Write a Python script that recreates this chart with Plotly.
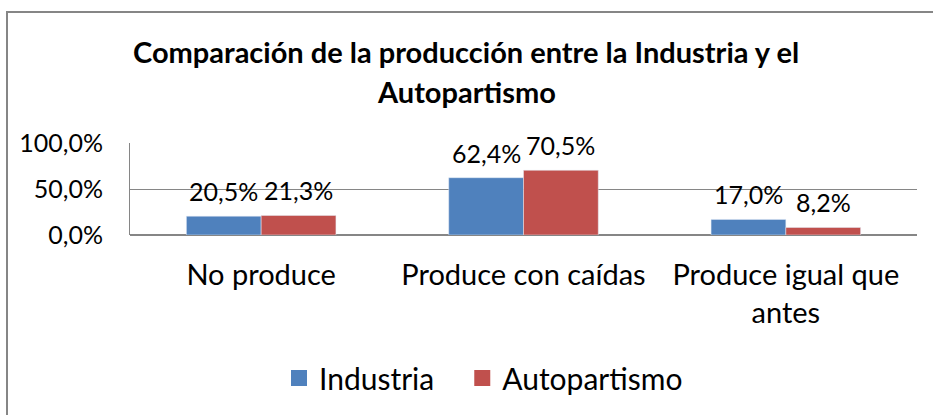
import plotly.graph_objects as go

categories = ["No produce", "Produce con caídas", "Produce igual que<br>antes"]
industria = [0.205, 0.624, 0.170]
autopartismo = [0.213, 0.705, 0.082]
series_names = ["Industria", "Autopartismo"]
title_lines = ["Comparación de la producción entre la Industria y el", "Autopartismo"]
y_ticks = [0, 0.5, 1.0]

W, H = 933, 415
L, R, T, B = 130, 16, 143, 180
PW = W - L - R
PH = H - T - B

def px_x(px):
    return (px - L) / PW

def px_y(py):
    return (H - B - py) / PH

FONT = "Lato"
BLUE = "#4F81BD"
RED = "#C0504D"
GRID = "#868686"
COLORS = [BLUE, RED]
PAD = ["\u00a0" * 3, ""]

fig = go.Figure()
for name, vals, col in zip(series_names, (industria, autopartismo), COLORS):
    fig.add_trace(go.Bar(x=categories, y=vals, name=name, marker_color=col, showlegend=False))
# legend entries with larger square swatches
for name, col, pad in zip(series_names, COLORS, PAD):
    fig.add_trace(go.Scatter(x=[None], y=[None], mode="markers", name=name + pad,
                             marker=dict(symbol="square", size=18, color=col)))

annotations = []
cat_w = PW / len(categories)
bar_w = cat_w * (1 - 0.43) / 2
for vals, sign in ((industria, -1), (autopartismo, 1)):
    for c, v in zip(categories, vals):
        annotations.append(dict(
            x=c, y=v, xref="x", yref="y", text=f"{v*100:.1f}%".replace(".", ","),
            showarrow=False, xshift=sign * bar_w / 2, yshift=25, yanchor="middle",
            font=dict(family=FONT, size=25, color="black")))

for text, ypx in zip(title_lines, (51, 91)):
    annotations.append(dict(x=px_x(466), y=px_y(ypx), xref="paper", yref="paper", text=f"<b>{text}</b>",
                            showarrow=False, xanchor="center", yanchor="middle",
                            font=dict(family=FONT, size=29, color="black")))

fig.update_layout(
    width=W, height=H,
    margin=dict(l=L, r=R, t=T, b=B, autoexpand=False),
    paper_bgcolor="white", plot_bgcolor="white",
    separators=",.",
    barmode="group", bargap=0.43, bargroupgap=0,
    font=dict(family=FONT, size=25, color="black"),
    showlegend=True,
    legend=dict(orientation="h", x=px_x(279), y=px_y(378), xanchor="left", yanchor="middle",
                font=dict(family=FONT, size=30, color="black"), itemwidth=30, tracegroupgap=0),
    annotations=annotations,
    shapes=[dict(type="rect", xref="paper", yref="paper", x0=px_x(7), x1=px_x(950), y0=px_y(12), y1=px_y(440),
                 line=dict(color=GRID, width=2), fillcolor="rgba(0,0,0,0)", layer="below")],
)
fig.update_xaxes(showgrid=False, showline=False, ticks="", tickfont=dict(family=FONT, size=29), ticklabelstandoff=20)
fig.update_yaxes(range=[0, 1.002], tickvals=y_ticks, tickformat=".1%", showgrid=True, gridcolor=GRID, gridwidth=1,
                 zeroline=True, zerolinecolor=GRID, showline=True, linecolor=GRID, ticks="",
                 tickfont=dict(family=FONT, size=25), ticklabelstandoff=21)

fig.write_html("out.html", config={"displayModeBar": False},
               post_script="document.body.style.margin='0';")
